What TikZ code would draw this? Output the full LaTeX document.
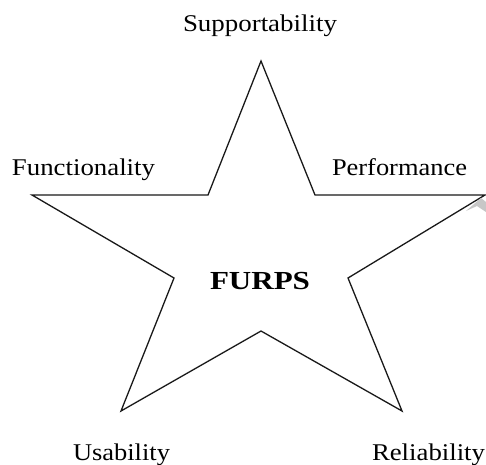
\documentclass[tikz,border=0pt]{standalone}
\usepackage{fontspec}
\setmainfont{Liberation Serif}
\usepackage{graphicx}
% set a label at its natural height, stretched to a given width
\newcommand{\widelabel}[2]{\resizebox{#1}{\height}{#2}}
\begin{document}
\begin{tikzpicture}[x=1pt,y=-1pt,
  label/.style={anchor=base,inner sep=0pt,font=\fontsize{24}{28}\selectfont},
  title/.style={anchor=base,inner sep=0pt,font=\fontsize{26}{30}\selectfont\bfseries},
  starline/.style={draw=black!90,line width=1.3pt,line join=miter}]
\useasboundingbox (0,0) rectangle (486,464);
% five-pointed star
\draw[starline] (261,61) -- (315,195) -- (485,195) -- (348,278) -- (402,411)
  -- (261,331) -- (121,411) -- (174,278) -- (32,195) -- (208,195) -- cycle;
% grey curl at the right tip
\fill[black!22] (466,211) -- (481,198) -- (486,202) -- (486,212) -- (477,206) -- cycle;
% labels
\node[label] (s) at (260,31) {\widelabel{154pt}{Supportability}};
\node[label] (f) at (83.5,175) {\widelabel{143pt}{Functionality}};
\node[label] (p) at (399.5,175) {\widelabel{135pt}{Performance}};
\node[title] (c) at (260,289) {\widelabel{100pt}{FURPS}};
\node[label] (u) at (121.5,460) {\widelabel{97pt}{Usability}};
\node[label] (r) at (428.5,460) {\widelabel{113pt}{Reliability}};
\end{tikzpicture}
\end{document}
